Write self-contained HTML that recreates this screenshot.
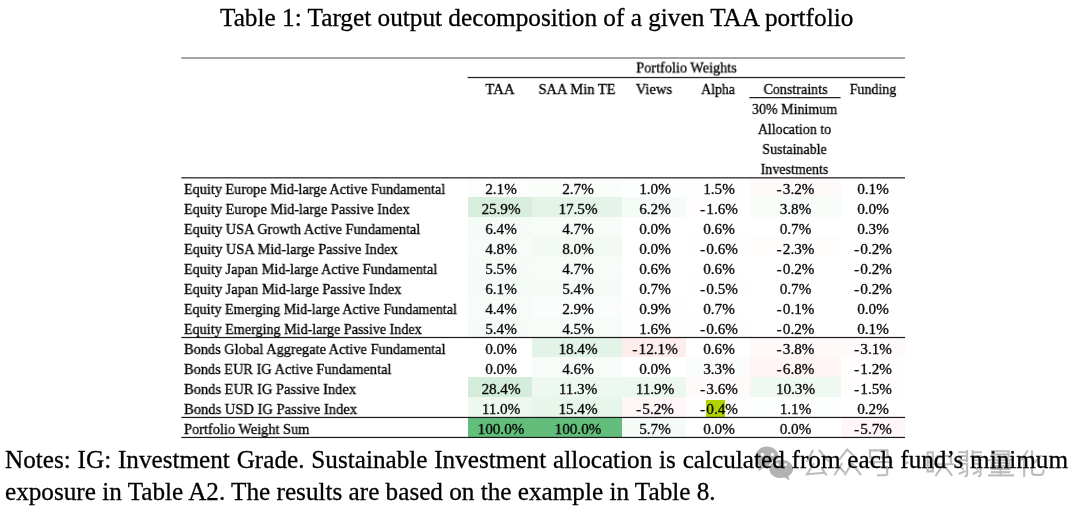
<!DOCTYPE html>
<html><head><meta charset="utf-8"><title>Table 1</title>
<style>
html,body{margin:0;padding:0;background:#fff;}
body{width:1080px;height:507px;position:relative;overflow:hidden;font-family:"Liberation Serif",serif;color:#000;}
.a{position:absolute;white-space:nowrap;will-change:transform;}
.t{-webkit-text-stroke:0.3px #000;font-size:15.2px;letter-spacing:0px;line-height:20px;height:20px;}
.c{text-align:center;transform:scaleX(0.9947);transform-origin:center center;}
.h{text-align:center;transform:scaleX(0.9211);transform-origin:center center;}
.l{transform:scaleX(0.9337);transform-origin:left center;}
.m{letter-spacing:1.3px;}
.ln{position:absolute;background:#000;height:1px;}
.bg{position:absolute;height:20px;}
</style></head><body>

<div class="a" id="title" style="-webkit-text-stroke:0.3px #000;left:220px;top:2px;font-size:25.25px;line-height:30px;">Table 1: Target output decomposition of a given TAA portfolio</div>
<div class="bg" style="left:468px;top:177px;width:64px;background:rgb(252,254,252)"></div>
<div class="bg" style="left:532px;top:177px;width:90px;background:rgb(251,253,251)"></div>
<div class="bg" style="left:622px;top:177px;width:64px;background:rgb(253,254,254)"></div>
<div class="bg" style="left:686px;top:177px;width:64px;background:rgb(253,254,253)"></div>
<div class="bg" style="left:750px;top:177px;width:91px;background:rgb(255,250,250)"></div>
<div class="bg" style="left:468px;top:197px;width:64px;background:rgb(215,238,221)"></div>
<div class="bg" style="left:532px;top:197px;width:90px;background:rgb(228,244,232)"></div>
<div class="bg" style="left:622px;top:197px;width:64px;background:rgb(245,251,247)"></div>
<div class="bg" style="left:686px;top:197px;width:64px;background:rgb(255,253,253)"></div>
<div class="bg" style="left:750px;top:197px;width:91px;background:rgb(249,253,250)"></div>
<div class="bg" style="left:468px;top:217px;width:64px;background:rgb(245,251,247)"></div>
<div class="bg" style="left:532px;top:217px;width:90px;background:rgb(248,252,249)"></div>
<div class="bg" style="left:686px;top:217px;width:64px;background:rgb(254,255,254)"></div>
<div class="bg" style="left:750px;top:217px;width:91px;background:rgb(254,255,254)"></div>
<div class="bg" style="left:468px;top:237px;width:64px;background:rgb(248,252,249)"></div>
<div class="bg" style="left:532px;top:237px;width:90px;background:rgb(243,250,244)"></div>
<div class="bg" style="left:686px;top:237px;width:64px;background:rgb(255,254,254)"></div>
<div class="bg" style="left:750px;top:237px;width:91px;background:rgb(255,252,252)"></div>
<div class="bg" style="left:468px;top:257px;width:64px;background:rgb(246,251,248)"></div>
<div class="bg" style="left:532px;top:257px;width:90px;background:rgb(248,252,249)"></div>
<div class="bg" style="left:622px;top:257px;width:64px;background:rgb(254,255,254)"></div>
<div class="bg" style="left:686px;top:257px;width:64px;background:rgb(254,255,254)"></div>
<div class="bg" style="left:468px;top:277px;width:64px;background:rgb(245,251,247)"></div>
<div class="bg" style="left:532px;top:277px;width:90px;background:rgb(247,251,248)"></div>
<div class="bg" style="left:622px;top:277px;width:64px;background:rgb(254,255,254)"></div>
<div class="bg" style="left:686px;top:277px;width:64px;background:rgb(255,254,254)"></div>
<div class="bg" style="left:750px;top:277px;width:91px;background:rgb(254,255,254)"></div>
<div class="bg" style="left:468px;top:297px;width:64px;background:rgb(248,252,249)"></div>
<div class="bg" style="left:532px;top:297px;width:90px;background:rgb(250,253,251)"></div>
<div class="bg" style="left:622px;top:297px;width:64px;background:rgb(254,254,254)"></div>
<div class="bg" style="left:686px;top:297px;width:64px;background:rgb(254,255,254)"></div>
<div class="bg" style="left:468px;top:317px;width:64px;background:rgb(247,251,248)"></div>
<div class="bg" style="left:532px;top:317px;width:90px;background:rgb(248,252,249)"></div>
<div class="bg" style="left:622px;top:317px;width:64px;background:rgb(253,254,253)"></div>
<div class="bg" style="left:686px;top:317px;width:64px;background:rgb(255,254,254)"></div>
<div class="bg" style="left:532px;top:337px;width:90px;background:rgb(226,243,231)"></div>
<div class="bg" style="left:622px;top:337px;width:64px;background:rgb(254,237,237)"></div>
<div class="bg" style="left:686px;top:337px;width:64px;background:rgb(254,255,254)"></div>
<div class="bg" style="left:750px;top:337px;width:91px;background:rgb(255,249,249)"></div>
<div class="bg" style="left:841px;top:337px;width:64px;background:rgb(255,250,250)"></div>
<div class="bg" style="left:532px;top:357px;width:90px;background:rgb(248,252,249)"></div>
<div class="bg" style="left:686px;top:357px;width:64px;background:rgb(250,253,251)"></div>
<div class="bg" style="left:750px;top:357px;width:91px;background:rgb(255,245,245)"></div>
<div class="bg" style="left:841px;top:357px;width:64px;background:rgb(255,253,253)"></div>
<div class="bg" style="left:468px;top:377px;width:64px;background:rgb(211,237,218)"></div>
<div class="bg" style="left:532px;top:377px;width:90px;background:rgb(237,248,240)"></div>
<div class="bg" style="left:622px;top:377px;width:64px;background:rgb(236,247,239)"></div>
<div class="bg" style="left:686px;top:377px;width:64px;background:rgb(255,250,250)"></div>
<div class="bg" style="left:750px;top:377px;width:91px;background:rgb(239,248,241)"></div>
<div class="bg" style="left:841px;top:377px;width:64px;background:rgb(255,253,253)"></div>
<div class="bg" style="left:468px;top:397px;width:64px;background:rgb(238,248,240)"></div>
<div class="bg" style="left:532px;top:397px;width:90px;background:rgb(231,245,235)"></div>
<div class="bg" style="left:622px;top:397px;width:64px;background:rgb(255,247,247)"></div>
<div class="bg" style="left:686px;top:397px;width:64px;background:rgb(255,254,254)"></div>
<div class="bg" style="left:750px;top:397px;width:91px;background:rgb(253,254,254)"></div>
<div class="bg" style="left:468px;top:417px;width:64px;background:rgb(99,190,123)"></div>
<div class="bg" style="left:532px;top:417px;width:90px;background:rgb(99,190,123)"></div>
<div class="bg" style="left:622px;top:417px;width:64px;background:rgb(246,251,247)"></div>
<div class="bg" style="left:841px;top:417px;width:64px;background:rgb(255,246,247)"></div>
<div class="bg" style="left:706px;top:400px;width:19px;height:17px;background:#b3d300"></div>
<svg class="a" style="left:0;top:0" width="1080" height="507" viewBox="0 0 1080 507"><rect x="181.3" y="57" width="723.7" height="2" fill="#a4a4a4"/><rect x="467.6" y="76.9" width="437.4" height="1.25" fill="#222"/><rect x="749.3" y="97" width="91.3" height="1.25" fill="#222"/><rect x="181.3" y="177.2" width="723.7" height="1.25" fill="#222"/><rect x="181.3" y="336.9" width="723.7" height="1.2" fill="#1a1a1a"/><rect x="181.3" y="416.85" width="723.7" height="1.2" fill="#1a1a1a"/><rect x="181.3" y="436.85" width="723.7" height="1.2" fill="#1a1a1a"/></svg>
<svg class="a" style="left:0;top:0" width="1080" height="507" viewBox="0 0 1080 507"><g fill="#b2b2b2"><path d="M767 446.6c-6.5 0-11.7 4.9-11.7 10.9 0 3.4 1.7 6.4 4.3 8.4l-1.3 5.6 5-3.6c1.2 0.3 2.4 0.5 3.7 0.5 6.5 0 11.7-4.9 11.7-10.9s-5.2-10.9-11.7-10.9z"/><ellipse cx="781.2" cy="468.9" rx="12.9" ry="10.2" fill="#fff"/><path d="M781.2 459.7c-6.6 0-11.9 4.1-11.9 9.2s5.3 9.2 11.9 9.2c1.3 0 2.6-0.2 3.8-0.5l4.6 3-1.2-4.6c2.8-1.7 4.7-4.2 4.7-7.1 0-5.1-5.3-9.2-11.9-9.2z"/></g><g fill="#fff"><circle cx="762.4" cy="454.4" r="1.7"/><circle cx="772.4" cy="454.4" r="1.7"/><circle cx="777.3" cy="464.6" r="1.4"/><circle cx="785.6" cy="464.6" r="1.4"/></g><g fill="none" stroke="#bcbcbc" stroke-width="2.1" stroke-linecap="butt" stroke-linejoin="miter"><path d="M813 450L807 462"/><path d="M819 450L829 461.5"/><path d="M814 463.3L807 474.3L824.5 472.8"/><path d="M821.8 468.2L826.6 475.5"/><path d="M839 459.8L847.2 449.6L856.8 458.8"/><path d="M842.2 463L834.3 475.3"/><path d="M840 467.5L844.5 472.8"/><path d="M852 463L844.6 475.3"/><path d="M852 463.5L861 475"/><path d="M870 450.4H887.5V457.4H870Z"/><path d="M868.5 462H892.6"/><path d="M874.2 462L873.2 467H887.2V473.3Q887.2 475.2 885 475.2H877"/><path d="M927.6 452.3H932.8V471.4H927.6Z"/><path d="M927.6 461.8H932.8"/><path d="M936.6 456H951V464.2H934.4M951 464.2H954"/><path d="M936.6 456V464.2"/><path d="M943.7 450V464.2L935.4 476"/><path d="M944 465L952.2 475.8"/><path d="M967.1 450V462"/><path d="M972.7 450V462"/><path d="M958.3 452.2H967.1M958.6 456H967.1M958 460.2H967.1"/><path d="M972.7 452.2H982M972.7 456H981.6M972.7 460.2H982.4"/><path d="M958.3 463.8H967.1V474.5Q967.1 476.5 964.5 476.3"/><path d="M960 466.5L963.6 469.5M958.8 474L965.5 471"/><path d="M972.7 463.8H980.5V474.5Q980.5 476.5 978 476.3"/><path d="M974 466.5L977.6 469.5M972.8 474L979 471"/><path d="M992 451.3H1008.6V457.5H992Z"/><path d="M992 454.4H1008.6"/><path d="M988 460.2H1014"/><path d="M991.7 462.9H1009.3V469H991.7Z"/><path d="M991.7 466H1009.3"/><path d="M1000.5 462.9V475.3"/><path d="M990.8 472.2H1010.2"/><path d="M988 475.4H1014"/><path d="M1027.8 450.3L1021.3 460.5"/><path d="M1024.2 457.5V476.8"/><path d="M1032 450.3V472Q1032 474.9 1035 474.9H1041Q1043.5 474.9 1043.6 469.5"/><path d="M1041.8 455.6L1032.4 464.4"/></g><circle cx="907.1" cy="462.8" r="1.5" fill="#bcbcbc"/></svg>
<div class="a t h" style="left:428px;top:58px;width:517px;transform:translateY(-0.5px) scaleX(0.9411)">Portfolio Weights</div>
<div class="a t h" style="left:428px;top:79px;width:144px;transform:scaleX(0.9768)">TAA</div>
<div class="a t h" style="left:492px;top:79px;width:170px;transform:scaleX(0.9558)">SAA Min TE</div>
<div class="a t h" style="left:582px;top:79px;width:144px;transform:scaleX(0.96)">Views</div>
<div class="a t h" style="left:646px;top:79px;width:144px;transform:scaleX(0.9126)">Alpha</div>
<div class="a t h" style="left:710px;top:79px;width:171px;transform:scaleX(0.9263)">Constraints</div>
<div class="a t h" style="left:801px;top:79px;width:144px;transform:scaleX(0.9211)">Funding</div>
<div class="a t h" style="left:709.2px;top:99px;width:171.0px;">30% Minimum</div>
<div class="a t h" style="left:709.2px;top:119px;width:171.0px;">Allocation to</div>
<div class="a t h" style="left:709.2px;top:139px;width:171.0px;">Sustainable</div>
<div class="a t h" style="left:709.2px;top:159px;width:171.0px;">Investments</div>
<div class="a t l" style="left:184px;top:179px;transform:scaleX(0.9365)">Equity Europe Mid-large Active Fundamental</div>
<div class="a t c" style="left:428.6px;top:179px;width:144.0px;">2.1%</div>
<div class="a t c" style="left:492.79999999999995px;top:179px;width:170.0px;">2.7%</div>
<div class="a t c" style="left:582.6px;top:179px;width:144.0px;">1.0%</div>
<div class="a t c" style="left:647.0px;top:179px;width:144.0px;">1.5%</div>
<div class="a t c" style="left:710.2px;top:179px;width:171.0px;"><span class="m">-</span>3.2%</div>
<div class="a t c" style="left:800.9px;top:179px;width:144.0px;">0.1%</div>
<div class="a t l" style="left:184px;top:199px;transform:scaleX(0.94)">Equity Europe Mid-large Passive Index</div>
<div class="a t c" style="left:428.6px;top:199px;width:144.0px;">25.9%</div>
<div class="a t c" style="left:492.79999999999995px;top:199px;width:170.0px;">17.5%</div>
<div class="a t c" style="left:582.6px;top:199px;width:144.0px;">6.2%</div>
<div class="a t c" style="left:647.0px;top:199px;width:144.0px;"><span class="m">-</span>1.6%</div>
<div class="a t c" style="left:710.2px;top:199px;width:171.0px;">3.8%</div>
<div class="a t c" style="left:800.9px;top:199px;width:144.0px;">0.0%</div>
<div class="a t l" style="left:184px;top:219px;transform:scaleX(0.9431)">Equity USA Growth Active Fundamental</div>
<div class="a t c" style="left:428.6px;top:219px;width:144.0px;">6.4%</div>
<div class="a t c" style="left:492.79999999999995px;top:219px;width:170.0px;">4.7%</div>
<div class="a t c" style="left:582.6px;top:219px;width:144.0px;">0.0%</div>
<div class="a t c" style="left:647.0px;top:219px;width:144.0px;">0.6%</div>
<div class="a t c" style="left:710.2px;top:219px;width:171.0px;">0.7%</div>
<div class="a t c" style="left:800.9px;top:219px;width:144.0px;">0.3%</div>
<div class="a t l" style="left:184px;top:239px;transform:scaleX(0.9458)">Equity USA Mid-large Passive Index</div>
<div class="a t c" style="left:428.6px;top:239px;width:144.0px;">4.8%</div>
<div class="a t c" style="left:492.79999999999995px;top:239px;width:170.0px;">8.0%</div>
<div class="a t c" style="left:582.6px;top:239px;width:144.0px;">0.0%</div>
<div class="a t c" style="left:647.0px;top:239px;width:144.0px;"><span class="m">-</span>0.6%</div>
<div class="a t c" style="left:710.2px;top:239px;width:171.0px;"><span class="m">-</span>2.3%</div>
<div class="a t c" style="left:800.9px;top:239px;width:144.0px;"><span class="m">-</span>0.2%</div>
<div class="a t l" style="left:184px;top:259px;transform:scaleX(0.9387)">Equity Japan Mid-large Active Fundamental</div>
<div class="a t c" style="left:428.6px;top:259px;width:144.0px;">5.5%</div>
<div class="a t c" style="left:492.79999999999995px;top:259px;width:170.0px;">4.7%</div>
<div class="a t c" style="left:582.6px;top:259px;width:144.0px;">0.6%</div>
<div class="a t c" style="left:647.0px;top:259px;width:144.0px;">0.6%</div>
<div class="a t c" style="left:710.2px;top:259px;width:171.0px;"><span class="m">-</span>0.2%</div>
<div class="a t c" style="left:800.9px;top:259px;width:144.0px;"><span class="m">-</span>0.2%</div>
<div class="a t l" style="left:184px;top:279px;transform:scaleX(0.9415)">Equity Japan Mid-large Passive Index</div>
<div class="a t c" style="left:428.6px;top:279px;width:144.0px;">6.1%</div>
<div class="a t c" style="left:492.79999999999995px;top:279px;width:170.0px;">5.4%</div>
<div class="a t c" style="left:582.6px;top:279px;width:144.0px;">0.7%</div>
<div class="a t c" style="left:647.0px;top:279px;width:144.0px;"><span class="m">-</span>0.5%</div>
<div class="a t c" style="left:710.2px;top:279px;width:171.0px;">0.7%</div>
<div class="a t c" style="left:800.9px;top:279px;width:144.0px;"><span class="m">-</span>0.2%</div>
<div class="a t l" style="left:184px;top:299px;transform:scaleX(0.9259)">Equity Emerging Mid-large Active Fundamental</div>
<div class="a t c" style="left:428.6px;top:299px;width:144.0px;">4.4%</div>
<div class="a t c" style="left:492.79999999999995px;top:299px;width:170.0px;">2.9%</div>
<div class="a t c" style="left:582.6px;top:299px;width:144.0px;">0.9%</div>
<div class="a t c" style="left:647.0px;top:299px;width:144.0px;">0.7%</div>
<div class="a t c" style="left:710.2px;top:299px;width:171.0px;"><span class="m">-</span>0.1%</div>
<div class="a t c" style="left:800.9px;top:299px;width:144.0px;">0.0%</div>
<div class="a t l" style="left:184px;top:319px;transform:scaleX(0.9291)">Equity Emerging Mid-large Passive Index</div>
<div class="a t c" style="left:428.6px;top:319px;width:144.0px;">5.4%</div>
<div class="a t c" style="left:492.79999999999995px;top:319px;width:170.0px;">4.5%</div>
<div class="a t c" style="left:582.6px;top:319px;width:144.0px;">1.6%</div>
<div class="a t c" style="left:647.0px;top:319px;width:144.0px;"><span class="m">-</span>0.6%</div>
<div class="a t c" style="left:710.2px;top:319px;width:171.0px;"><span class="m">-</span>0.2%</div>
<div class="a t c" style="left:800.9px;top:319px;width:144.0px;">0.1%</div>
<div class="a t l" style="left:184px;top:339px;transform:scaleX(0.9451)">Bonds Global Aggregate Active Fundamental</div>
<div class="a t c" style="left:428.6px;top:339px;width:144.0px;">0.0%</div>
<div class="a t c" style="left:492.79999999999995px;top:339px;width:170.0px;">18.4%</div>
<div class="a t c" style="left:582.6px;top:339px;width:144.0px;"><span class="m">-</span>12.1%</div>
<div class="a t c" style="left:647.0px;top:339px;width:144.0px;">0.6%</div>
<div class="a t c" style="left:710.2px;top:339px;width:171.0px;"><span class="m">-</span>3.8%</div>
<div class="a t c" style="left:800.9px;top:339px;width:144.0px;"><span class="m">-</span>3.1%</div>
<div class="a t l" style="left:184px;top:359px;transform:scaleX(0.9455)">Bonds EUR IG Active Fundamental</div>
<div class="a t c" style="left:428.6px;top:359px;width:144.0px;">0.0%</div>
<div class="a t c" style="left:492.79999999999995px;top:359px;width:170.0px;">4.6%</div>
<div class="a t c" style="left:582.6px;top:359px;width:144.0px;">0.0%</div>
<div class="a t c" style="left:647.0px;top:359px;width:144.0px;">3.3%</div>
<div class="a t c" style="left:710.2px;top:359px;width:171.0px;"><span class="m">-</span>6.8%</div>
<div class="a t c" style="left:800.9px;top:359px;width:144.0px;"><span class="m">-</span>1.2%</div>
<div class="a t l" style="left:184px;top:379px;transform:scaleX(0.9529)">Bonds EUR IG Passive Index</div>
<div class="a t c" style="left:428.6px;top:379px;width:144.0px;">28.4%</div>
<div class="a t c" style="left:492.79999999999995px;top:379px;width:170.0px;">11.3%</div>
<div class="a t c" style="left:582.6px;top:379px;width:144.0px;">11.9%</div>
<div class="a t c" style="left:647.0px;top:379px;width:144.0px;"><span class="m">-</span>3.6%</div>
<div class="a t c" style="left:710.2px;top:379px;width:171.0px;">10.3%</div>
<div class="a t c" style="left:800.9px;top:379px;width:144.0px;"><span class="m">-</span>1.5%</div>
<div class="a t l" style="left:184px;top:399px;transform:scaleX(0.9582)">Bonds USD IG Passive Index</div>
<div class="a t c" style="left:428.6px;top:399px;width:144.0px;">11.0%</div>
<div class="a t c" style="left:492.79999999999995px;top:399px;width:170.0px;">15.4%</div>
<div class="a t c" style="left:582.6px;top:399px;width:144.0px;"><span class="m">-</span>5.2%</div>
<div class="a t c" style="left:647.0px;top:399px;width:144.0px;"><span class="m">-</span>0.4%</div>
<div class="a t c" style="left:710.2px;top:399px;width:171.0px;">1.1%</div>
<div class="a t c" style="left:800.9px;top:399px;width:144.0px;">0.2%</div>
<div class="a t l" style="left:184px;top:419px;transform:scaleX(0.9451)">Portfolio Weight Sum</div>
<div class="a t c" style="left:428.6px;top:419px;width:144.0px;">100.0%</div>
<div class="a t c" style="left:492.79999999999995px;top:419px;width:170.0px;">100.0%</div>
<div class="a t c" style="left:582.6px;top:419px;width:144.0px;">5.7%</div>
<div class="a t c" style="left:647.0px;top:419px;width:144.0px;">0.0%</div>
<div class="a t c" style="left:710.2px;top:419px;width:171.0px;">0.0%</div>
<div class="a t c" style="left:800.9px;top:419px;width:144.0px;"><span class="m">-</span>5.7%</div>
<div class="a" id="n1" style="-webkit-text-stroke:0.3px #000;left:5px;top:443px;font-size:25.2px;line-height:34px;width:1063px;text-align:justify;text-align-last:justify;">Notes: IG: Investment Grade. Sustainable Investment allocation is calculated from each fund’s minimum</div>
<div class="a" id="n2" style="-webkit-text-stroke:0.3px #000;left:5px;top:475px;font-size:25.2px;line-height:34px;">exposure in Table A2. The results are based on the example in Table 8.</div>
</body></html>
